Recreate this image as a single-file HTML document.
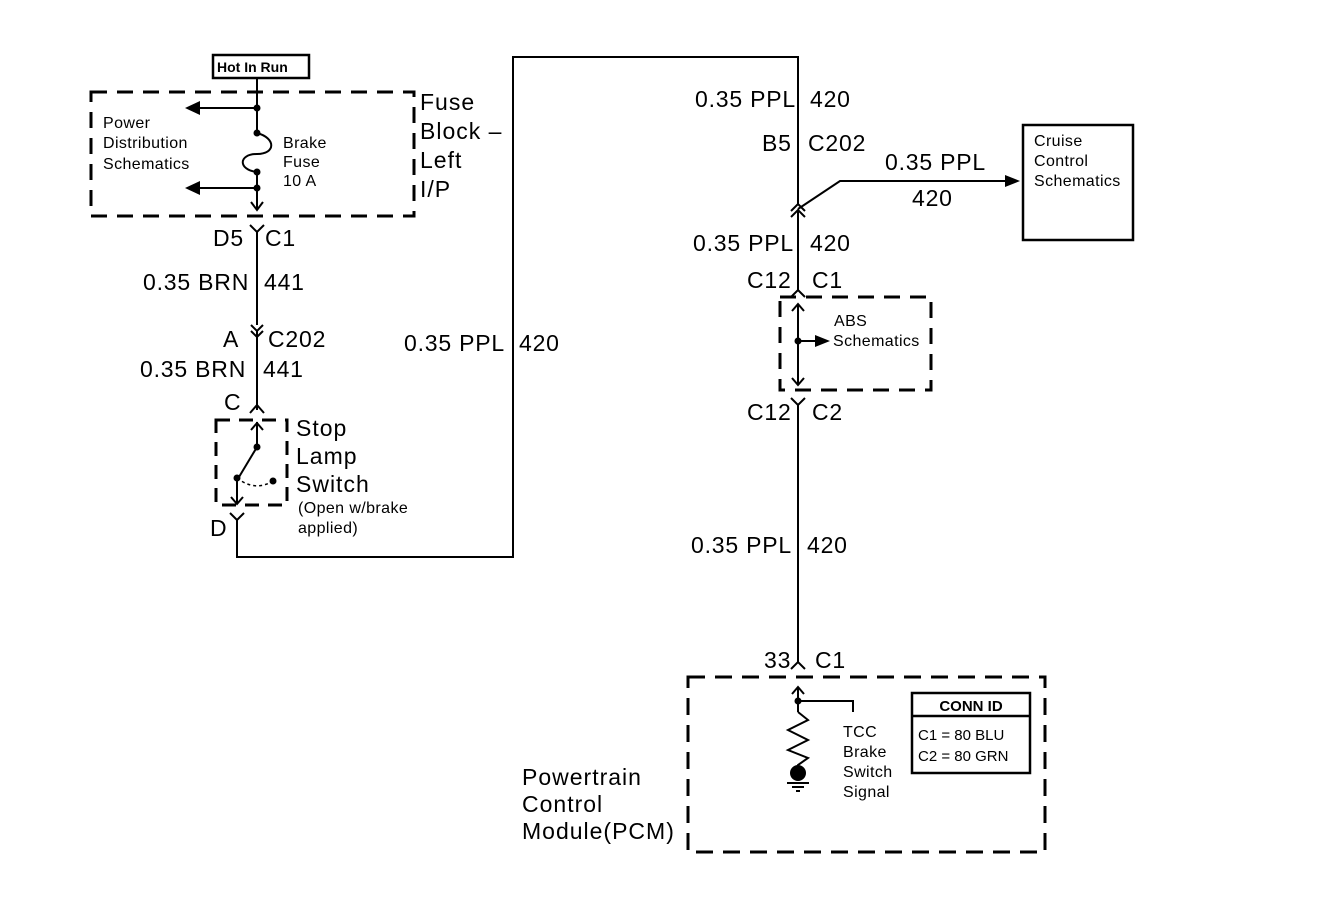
<!DOCTYPE html>
<html><head><meta charset="utf-8"><style>
html,body{margin:0;padding:0;background:#fff;}
svg{display:block;}
text{font-family:"Liberation Sans",Arial,sans-serif;fill:#000;}
.b{font-size:23px;letter-spacing:0.8px;}
.s{font-size:16px;letter-spacing:0.4px;}
.m{font-size:23px;letter-spacing:1px;}
</style></head><body>
<svg width="1344" height="910" viewBox="0 0 1344 910" xmlns="http://www.w3.org/2000/svg">
<g stroke="#000" stroke-width="2" fill="none">
<rect x="213" y="55" width="96" height="23" stroke-width="2.5"/>
<rect x="91" y="92" width="323" height="124" stroke-width="3" stroke-dasharray="16,10"/>
<line x1="257" y1="78" x2="257" y2="133"/>
<path d="M257 133 C276 138,276 154,257 154 C238 154,238 170,257 172"/>
<line x1="257" y1="172" x2="257" y2="210"/>
<path d="M251 202 L257 210 L263 202"/>
<line x1="257" y1="108" x2="198" y2="108"/>
<line x1="257" y1="188" x2="198" y2="188"/>
<path d="M250 225 L257 232 L264 225"/>
<line x1="257" y1="232" x2="257" y2="325"/>
<path d="M251 325 L257 331 L263 325"/>
<path d="M251 331 L257 337 L263 331"/>
<line x1="257" y1="331" x2="257" y2="410"/>
<path d="M250 413 L257 405 L264 413"/>
<rect x="216" y="420" width="71" height="85" stroke-width="3" stroke-dasharray="14,9"/>
<line x1="257" y1="422" x2="257" y2="447"/>
<path d="M251 430 L257 423 L263 430"/>
<line x1="257" y1="447" x2="239" y2="477"/>
<path d="M237 478 Q255 492 273 481" stroke-dasharray="3,3" stroke-width="1.5"/>
<line x1="237" y1="478" x2="237" y2="503"/>
<path d="M231 497 L237 504 L243 497"/>
<path d="M230 513 L237 520 L244 513"/>
<polyline points="237,520 237,557 513,557 513,57 798,57 798,205"/>
<path d="M791 211 L798 204 L805 211"/>
<path d="M791 217 L798 210 L805 217"/>
<polyline points="798,209 840,181 1010,181"/>
<line x1="798" y1="210" x2="798" y2="290"/>
<path d="M791 297 L798 290 L805 297"/>
<rect x="780" y="297" width="151" height="93" stroke-width="3" stroke-dasharray="16,10"/>
<line x1="798" y1="304" x2="798" y2="385"/>
<path d="M792 311 L798 304 L804 311"/>
<path d="M792 378 L798 385 L804 378"/>
<line x1="798" y1="341" x2="816" y2="341"/>
<path d="M791 398 L798 405 L805 398"/>
<line x1="798" y1="405" x2="798" y2="662"/>
<path d="M791 669 L798 662 L805 669"/>
<rect x="688" y="677" width="357" height="175" stroke-width="3" stroke-dasharray="17,10"/>
<line x1="798" y1="687" x2="798" y2="712"/>
<path d="M792 694 L798 687 L804 694"/>
<polyline points="798,701 853,701 853,712"/>
<polyline points="798,712 808,720 788,730 808,740 788,750 808,758 798,765 798,772"/>
<line x1="787" y1="783" x2="809" y2="783"/>
<line x1="792" y1="787" x2="804" y2="787"/>
<line x1="796" y1="791" x2="800" y2="791"/>
<rect x="912" y="693" width="118" height="80" stroke-width="2.5"/>
<line x1="912" y1="716" x2="1030" y2="716" stroke-width="2.5"/>
<rect x="1023" y="125" width="110" height="115" stroke-width="2.5"/>
</g>
<g fill="#000">
<circle cx="257" cy="108" r="3.5"/><circle cx="257" cy="133" r="3.5"/><circle cx="257" cy="172" r="3.5"/><circle cx="257" cy="188" r="3.5"/>
<polygon points="185,108 200,101 200,115"/><polygon points="185,188 200,181 200,195"/>
<circle cx="257" cy="447" r="3.5"/><circle cx="237" cy="478" r="3.5"/><circle cx="273" cy="481" r="3.5"/>
<polygon points="1020,181 1005,175 1005,187"/>
<circle cx="798" cy="341" r="3.5"/><polygon points="830,341 815,335 815,347"/>
<circle cx="798" cy="701" r="3.5"/><circle cx="798" cy="773" r="8"/>
</g>
<text x="217" y="72" font-size="14" font-weight="bold">Hot In Run</text>
<text class="s" x="103" y="128">Power</text>
<text class="s" x="103" y="148">Distribution</text>
<text class="s" x="103" y="169">Schematics</text>
<text class="s" x="283" y="148">Brake</text>
<text class="s" x="283" y="167">Fuse</text>
<text class="s" x="283" y="186">10 A</text>
<text class="m" x="420" y="110">Fuse</text>
<text class="m" x="420" y="139">Block –</text>
<text class="m" x="420" y="168">Left</text>
<text class="m" x="420" y="197">I/P</text>
<text class="b" x="213" y="246">D5</text><text class="b" x="265" y="246">C1</text>
<text class="b" x="143" y="290">0.35 BRN</text><text class="b" x="264" y="290">441</text>
<text class="b" x="223" y="347">A</text><text class="b" x="268" y="347">C202</text>
<text class="b" x="140" y="377">0.35 BRN</text><text class="b" x="263" y="377">441</text>
<text class="b" x="224" y="410">C</text>
<text class="m" x="296" y="436">Stop</text>
<text class="m" x="296" y="464">Lamp</text>
<text class="m" x="296" y="492">Switch</text>
<text class="s" x="298" y="513">(Open w/brake</text>
<text class="s" x="298" y="533">applied)</text>
<text class="b" x="210" y="536">D</text>
<text class="b" x="404" y="351">0.35 PPL</text><text class="b" x="519" y="351">420</text>
<text class="b" x="695" y="107">0.35 PPL</text><text class="b" x="810" y="107">420</text>
<text class="b" x="762" y="151">B5</text><text class="b" x="808" y="151">C202</text>
<text class="b" x="885" y="170">0.35 PPL</text><text class="b" x="912" y="206">420</text>
<text class="s" x="1034" y="146">Cruise</text>
<text class="s" x="1034" y="166">Control</text>
<text class="s" x="1034" y="186">Schematics</text>
<text class="b" x="693" y="251">0.35 PPL</text><text class="b" x="810" y="251">420</text>
<text class="b" x="747" y="288">C12</text><text class="b" x="812" y="288">C1</text>
<text class="s" x="834" y="326">ABS</text>
<text class="s" x="833" y="346">Schematics</text>
<text class="b" x="747" y="420">C12</text><text class="b" x="812" y="420">C2</text>
<text class="b" x="691" y="553">0.35 PPL</text><text class="b" x="807" y="553">420</text>
<text class="b" x="764" y="668">33</text><text class="b" x="815" y="668">C1</text>
<text class="s" x="843" y="737">TCC</text>
<text class="s" x="843" y="757">Brake</text>
<text class="s" x="843" y="777">Switch</text>
<text class="s" x="843" y="797">Signal</text>
<text x="971" y="711" font-size="15" font-weight="bold" text-anchor="middle">CONN ID</text>
<text x="918" y="740" font-size="15">C1 = 80 BLU</text>
<text x="918" y="761" font-size="15">C2 = 80 GRN</text>
<text class="m" x="522" y="785">Powertrain</text>
<text class="m" x="522" y="812">Control</text>
<text class="m" x="522" y="839">Module(PCM)</text>
</svg>
</body></html>
